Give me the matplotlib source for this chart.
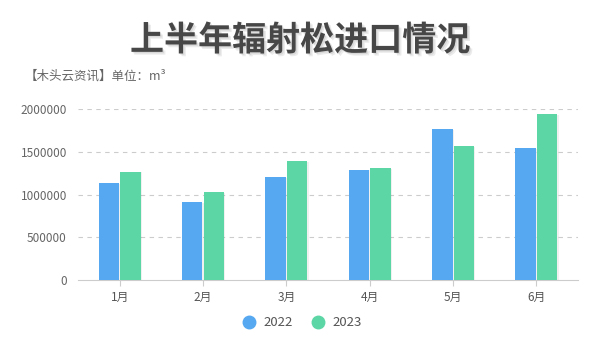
import matplotlib
matplotlib.use("Agg")
import matplotlib.pyplot as plt
import matplotlib.patheffects as pe
import numpy as np
from matplotlib.lines import Line2D

plt.rcParams['font.family'] = ['Noto Sans CJK SC', 'DejaVu Sans']

months = ['1月', '2月', '3月', '4月', '5月', '6月']
series_names = ['2022', '2023']
v2022 = [1134000, 908000, 1205000, 1290000, 1766000, 1544000]
v2023 = [1267000, 1029000, 1392000, 1310000, 1563000, 1937000]
yticks = [0, 500000, 1000000, 1500000, 2000000]
colors = ['#56a8f0', '#5dd6a6']

fig = plt.figure(figsize=(6, 3.6), dpi=100)
ax = fig.add_axes([78/600, 1-280/360, 500/600, 171/360])

x = np.arange(len(months))
w = 0.245
shadow = [pe.SimplePatchShadow(offset=(1, -0.5), alpha=0.06, shadow_rgbFace='black'), pe.Normal()]
ax.bar(x - w/2 - 0.006, v2022, w, color=colors[0], zorder=3, path_effects=shadow)
ax.bar(x + w/2 + 0.006, v2023, w, color=colors[1], zorder=3, path_effects=shadow)

ax.set_xlim(-0.5, 5.5)
ax.set_ylim(0, 2000000)
ax.set_yticks(yticks)
ax.set_yticklabels([str(t) for t in yticks])
ax.set_xticks(x)
ax.set_xticklabels(months)
for s in ['top', 'right', 'left']:
    ax.spines[s].set_visible(False)
ax.spines['bottom'].set_color('#cccccc')
ax.tick_params(axis='y', length=0, labelsize=8.5, labelcolor='#666666', pad=8)
ax.tick_params(axis='x', length=4, color='#cccccc', labelsize=8.5, labelcolor='#555555', pad=4)
for t in yticks[1:]:
    ax.axhline(t, color='#cccccc', lw=0.8, ls=(0, (4, 4)), zorder=1)

title_fx = [pe.SimplePatchShadow(offset=(2, -2), alpha=0.08, shadow_rgbFace='black'),
            pe.SimplePatchShadow(offset=(1, -1), alpha=0.08, shadow_rgbFace='black'),
            pe.Normal()]
fig.text(0.5, 1-40/360, '上半年辐射松进口情况', ha='center', va='center', fontsize=24.5,
         fontweight='heavy', color='#474747', path_effects=title_fx)
fig.text(25/600, 1-76/360, '【木头云资讯】单位：m³', ha='left', va='center', fontsize=9, color='#666666')

handles = [Line2D([], [], marker='o', ls='', markersize=9, color=c) for c in colors]
fig.legend(handles, series_names, loc='center', bbox_to_anchor=(299/600, 1-323/360), ncol=2,
           frameon=False, fontsize=9.5, labelcolor='#555555', handletextpad=0.1, columnspacing=0.9)

fig.savefig('out.png', dpi=100, facecolor='white')
